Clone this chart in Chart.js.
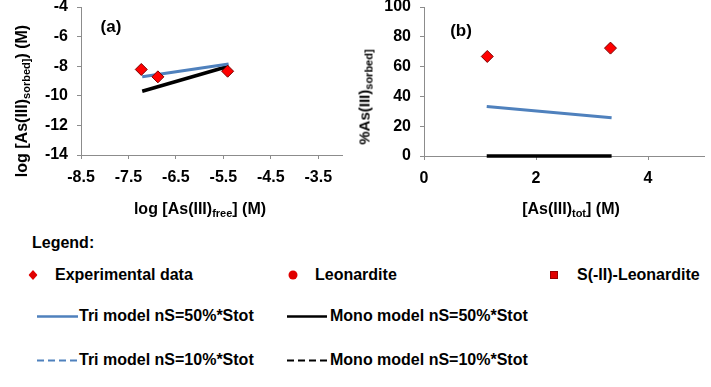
<!DOCTYPE html>
<html>
<head>
<meta charset="utf-8">
<script src="https://cdn.jsdelivr.net/npm/chart.js@4.4.1/dist/chart.umd.min.js"></script>
<style>
body { margin:0; background:#fff; }
#wrap { position:relative; width:711px; height:387px; overflow:hidden; font-family:"Liberation Sans", Arial, sans-serif; color:#000; }
.box { position:absolute; top:0; height:220px; }
.ttl { position:absolute; font-weight:bold; font-size:16px; white-space:nowrap; transform:translate(-50%,-50%); }
.ttl sub { font-size:11px; vertical-align:-3px; line-height:0; }
.rot { transform:translate(-50%,-50%) rotate(-90deg); }
.leg { position:absolute; font-weight:bold; font-size:16px; white-space:nowrap; transform:translateY(-50%); }
.mk { position:absolute; transform:translate(-50%,-50%); }
.ln { position:absolute; }
</style>
</head>
<body>
<div id="wrap">
  <div class="box" style="left:0;width:355px"><canvas id="ca" width="355" height="220"></canvas></div>
  <div class="box" style="left:355px;width:356px"><canvas id="cb" width="356" height="220"></canvas></div>

  <div class="ttl" style="left:111px;top:27px;font-size:17px">(a)</div>
  <div class="ttl" style="left:461px;top:31px;font-size:17px">(b)</div>
  <div class="ttl" style="left:200px;top:209px">log [As(III)<sub>free</sub>] (M)</div>
  <div class="ttl rot" style="left:22px;top:101px">log [As(III)<sub>sorbed]</sub>) (M)</div>
  <div class="ttl" style="left:571px;top:209px">[As(III)<sub>tot</sub>] (M)</div>
  <div class="ttl rot" style="left:364px;top:97px;font-size:15px">%As(III)<sub>sorbed]</sub></div>

  <div class="leg" style="left:32px;top:243px">Legend:</div>
  <svg class="mk" style="left:33px;top:275px" width="9" height="10"><polygon points="4.5,0 9,5 4.5,10 0,5" fill="#e00000"/></svg>
  <div class="leg" style="left:55px;top:275px">Experimental data</div>
  <svg class="mk" style="left:293px;top:275px" width="10" height="10"><circle cx="5" cy="5" r="4.5" fill="#e00000"/></svg>
  <div class="leg" style="left:315px;top:275px">Leonardite</div>
  <svg class="mk" style="left:554px;top:275px" width="8" height="8"><rect x="0.5" y="0.5" width="7" height="7" fill="#e00000" stroke="#900" stroke-width="1"/></svg>
  <div class="leg" style="left:577px;top:275px">S(-II)-Leonardite</div>

  <svg class="ln" style="left:37px;top:314px" width="41" height="5"><line x1="0" y1="2.5" x2="41" y2="2.5" stroke="#4f81bd" stroke-width="2.5"/></svg>
  <div class="leg" style="left:79px;top:316px">Tri model nS=50%*Stot</div>
  <svg class="ln" style="left:287px;top:314px" width="40" height="5"><line x1="0" y1="2.5" x2="40" y2="2.5" stroke="#000" stroke-width="2.5"/></svg>
  <div class="leg" style="left:330px;top:316px">Mono model nS=50%*Stot</div>

  <svg class="ln" style="left:37px;top:358px" width="41" height="5"><line x1="0" y1="2.5" x2="41" y2="2.5" stroke="#4f81bd" stroke-width="2" stroke-dasharray="7,4"/></svg>
  <div class="leg" style="left:79px;top:360px">Tri model nS=10%*Stot</div>
  <svg class="ln" style="left:287px;top:358px" width="40" height="5"><line x1="0" y1="2.5" x2="40" y2="2.5" stroke="#000" stroke-width="2" stroke-dasharray="7,4"/></svg>
  <div class="leg" style="left:330px;top:360px">Mono model nS=10%*Stot</div>
</div>
<script>
// panel (a): log sorbed vs log free
var expFreeA = [-7.23, -6.88, -5.41];
var expSorbedA = [-8.22, -8.72, -8.34];
var modelFreeA = [-7.21, -5.39];
var triSorbedA = [-8.72, -7.85];
var monoSorbedA = [-9.69, -8.0];
var xTicksA = [-8.5, -7.5, -6.5, -5.5, -4.5, -3.5];
var yTicksA = [-14, -12, -10, -8, -6, -4];

// panel (b): % sorbed vs total
var expTotB = [1.13, 3.33];
var expPctB = [66.8, 72.4];
var modelTotB = [1.12, 3.35];
var triPctB = [33.3, 25.6];
var monoPctB = [0, 0];
var xTicksB = [0, 2, 4];
var yTicksB = [0, 20, 40, 60, 80, 100];

Chart.defaults.font.family = '"Liberation Sans", Arial, sans-serif';
Chart.defaults.color = '#000';

function pts(xs, ys) {
  return xs.map(function(x, i) { return {x: x, y: ys[i]}; });
}

function axis(min, max, ticks, fmt, size, horiz) {
  return {
    type: 'linear', min: min, max: max,
    afterBuildTicks: function(s) { s.ticks = ticks.map(function(v) { return {value: v}; }); },
    afterFit: function(s) {
      if (horiz) { s.height = size; s.paddingLeft = 0; s.paddingRight = 0; }
      else { s.width = size; s.paddingTop = 0; s.paddingBottom = 0; }
    },
    border: {display: true, color: '#8c8c8c', width: 1},
    grid: {display: true, drawOnChartArea: false, drawTicks: true, tickLength: 4, color: '#8c8c8c'},
    ticks: {font: {size: 16, weight: 'bold'}, padding: 9, maxRotation: 0, autoSkip: false,
      callback: fmt}
  };
}

function makeChart(id, exp, tri, mono, xa, ya, pad) {
  new Chart(document.getElementById(id), {
    type: 'scatter',
    data: {
      datasets: [
        {data: exp, pointStyle: 'rectRot', pointRadius: 6, backgroundColor: '#ff0000',
          borderColor: '#7a0000', borderWidth: 1, showLine: false, clip: false},
        {data: tri, showLine: true, borderColor: '#4f81bd', borderWidth: 3, pointRadius: 0, clip: false},
        {data: mono, showLine: true, borderColor: '#000', borderWidth: 3.5, pointRadius: 0, clip: false}
      ]
    },
    options: {
      responsive: false,
      animation: false,
      layout: {padding: pad},
      plugins: {legend: {display: false}, tooltip: {enabled: false}},
      scales: {x: xa, y: ya}
    }
  });
}

makeChart('ca',
  pts(expFreeA, expSorbedA), pts(modelFreeA, triSorbedA), pts(modelFreeA, monoSorbedA),
  axis(-8.5, -3, xTicksA, function(v) { return v.toFixed(1); }, 65, true),
  axis(-14, -4, yTicksA, function(v) { return v; }, 81, false),
  {left: 0, right: 13, top: 7, bottom: 0});

makeChart('cb',
  pts(expTotB, expPctB), pts(modelTotB, triPctB), pts(modelTotB, monoPctB),
  axis(0, 5, xTicksB, function(v) { return v; }, 64, true),
  axis(0, 100, yTicksB, function(v) { return v; }, 69, false),
  {left: 0, right: 6, top: 7, bottom: 0});
</script>
</body>
</html>
